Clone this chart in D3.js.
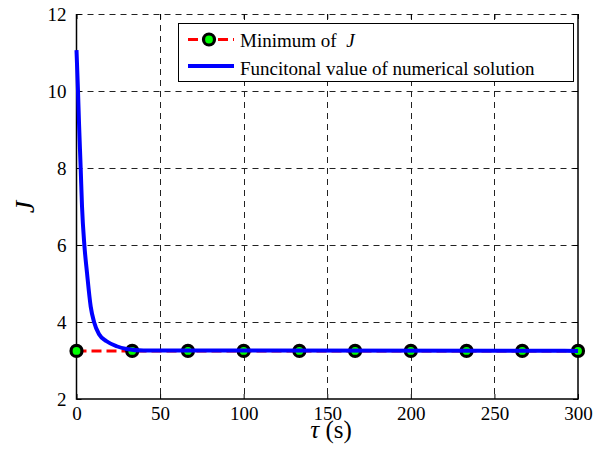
<!DOCTYPE html>
<html><head><meta charset="utf-8">
<script src="https://cdn.jsdelivr.net/npm/d3@7"></script>
<style>html,body{margin:0;padding:0;background:#fff;} svg text{font-family:"Liberation Serif",serif;}</style>
</head><body>
<script>
// Data
const curveT = [0, 0.9, 1.5, 2.5, 3.3, 4.7, 6.3, 8.5, 10.5, 13.5, 18, 24, 30, 40, 300];
const curveJ = [11.06, 10.0, 9.17, 8.0, 7.0, 6.0, 5.27, 4.4, 4.0, 3.68, 3.5, 3.37, 3.3, 3.26, 3.25];
const minT = [0, 33.33, 66.67, 100, 133.33, 166.67, 200, 233.33, 266.67, 300];
const minJ = [3.25, 3.25, 3.25, 3.25, 3.25, 3.25, 3.25, 3.25, 3.25, 3.25];
const xTicks = [0, 50, 100, 150, 200, 250, 300];
const yTicks = [2, 4, 6, 8, 10, 12];
const legendLabels = ["Minimum of ", "Funcitonal value of numerical solution"];

const W = 595, H = 459;
const L = 76.5, R = 578, T = 14, B = 399;
const FONT = "Liberation Serif";
const svg = d3.select("body").append("svg").attr("width", W).attr("height", H)
  .attr("font-family", FONT);
svg.append("rect").attr("width", W).attr("height", H).attr("fill", "#fff");

const x = d3.scaleLinear().domain([0, 300]).range([L, R]);
const y = d3.scaleLinear().domain([2, 12]).range([B, T]);

// grid
const grid = svg.append("g").attr("stroke", "#222").attr("stroke-width", 1).attr("stroke-dasharray", "6,5");
xTicks.slice(1, -1).forEach(v => grid.append("line").attr("x1", Math.round(x(v)) + 0.5).attr("x2", Math.round(x(v)) + 0.5).attr("y1", T).attr("y2", B));
yTicks.slice(1, -1).forEach(v => grid.append("line").attr("y1", Math.round(y(v)) + 0.5).attr("y2", Math.round(y(v)) + 0.5).attr("x1", L).attr("x2", R));
grid.append("line").attr("y1", T + 0.5).attr("y2", T + 0.5).attr("x1", L).attr("x2", R);

// axes
const xAxisB = d3.axisBottom(x).tickValues(xTicks).tickSize(-5).tickPadding(8).tickFormat(d3.format("d"));
const xAxisT = d3.axisTop(x).tickValues(xTicks).tickSize(-5).tickFormat("");
const yAxisL = d3.axisLeft(y).tickValues(yTicks).tickSize(-5).tickPadding(10).tickFormat(d3.format("d"));
const yAxisR = d3.axisRight(y).tickValues(yTicks).tickSize(-5).tickFormat("");
function style(g) {
  g.attr("font-family", FONT).attr("font-size", 19);
  g.select(".domain").remove();
  g.selectAll("line").attr("stroke", "#000");
  g.selectAll("text").attr("fill", "#000").attr("font-family", FONT).attr("font-size", 19);
}
svg.append("g").attr("transform", `translate(0,${B})`).call(xAxisB).call(style);
svg.append("g").attr("transform", `translate(0,${T})`).call(xAxisT).call(style);
svg.append("g").attr("transform", `translate(${L},0)`).call(yAxisL).call(style);
svg.append("g").attr("transform", `translate(${R},0)`).call(yAxisR).call(style);

// box: left, bottom, right solid
svg.append("path").attr("d", `M${L},${T}V${B}H${R}V${T}`).attr("fill", "none").attr("stroke", "#000").attr("stroke-width", 1.5);

// red dashed minimum line
const minData = minT.map((t, i) => [t, minJ[i]]);
svg.append("path").datum(minData)
  .attr("d", d3.line().x(d => x(d[0])).y(d => y(d[1])))
  .attr("fill", "none").attr("stroke", "#ff0000").attr("stroke-width", 3).attr("stroke-dasharray", "10,5");
svg.append("g").selectAll("circle").data(minData).join("circle")
  .attr("cx", d => x(d[0])).attr("cy", d => y(d[1])).attr("r", 5.5)
  .attr("fill", "#00ff00").attr("stroke", "#000").attr("stroke-width", 3.2);

// blue curve
const cData = curveT.map((t, i) => [t, curveJ[i]]);
svg.append("path").datum(cData)
  .attr("d", d3.line().x(d => x(d[0])).y(d => y(d[1])).curve(d3.curveMonotoneX))
  .attr("fill", "none").attr("stroke", "#0000ff").attr("stroke-width", 4).attr("stroke-linejoin", "round");

// labels
const xl = svg.append("text").attr("x", 331).attr("y", 438).attr("text-anchor", "middle")
  .attr("font-family", FONT).attr("font-size", 25);
xl.append("tspan").attr("font-style", "italic").text("τ");
xl.append("tspan").text(" (s)");
svg.append("text").attr("transform", "translate(34,207) rotate(-90)").attr("text-anchor", "middle")
  .attr("font-family", FONT).attr("font-size", 28).attr("font-style", "italic").text("J");

// legend
const lg = svg.append("g");
lg.append("rect").attr("x", 178.5).attr("y", 23.5).attr("width", 395).attr("height", 58)
  .attr("fill", "#fff").attr("stroke", "#000").attr("stroke-width", 1);
lg.append("line").attr("x1", 188).attr("x2", 234).attr("y1", 39.5).attr("y2", 39.5)
  .attr("stroke", "#ff0000").attr("stroke-width", 3).attr("stroke-dasharray", "10,5");
lg.append("circle").attr("cx", 209).attr("cy", 39.5).attr("r", 5.5)
  .attr("fill", "#00ff00").attr("stroke", "#000").attr("stroke-width", 3.2);
lg.append("line").attr("x1", 188).attr("x2", 234).attr("y1", 66).attr("y2", 66)
  .attr("stroke", "#0000ff").attr("stroke-width", 4);
const t1 = lg.append("text").attr("x", 240).attr("y", 46.5).attr("font-family", FONT).attr("font-size", 19);
t1.append("tspan").text(legendLabels[0]);
t1.append("tspan").attr("dx", 5).attr("font-style", "italic").text("J");
lg.append("text").attr("x", 240).attr("y", 74.5).attr("font-family", FONT).attr("font-size", 19).text(legendLabels[1]);
</script>
</body></html>
